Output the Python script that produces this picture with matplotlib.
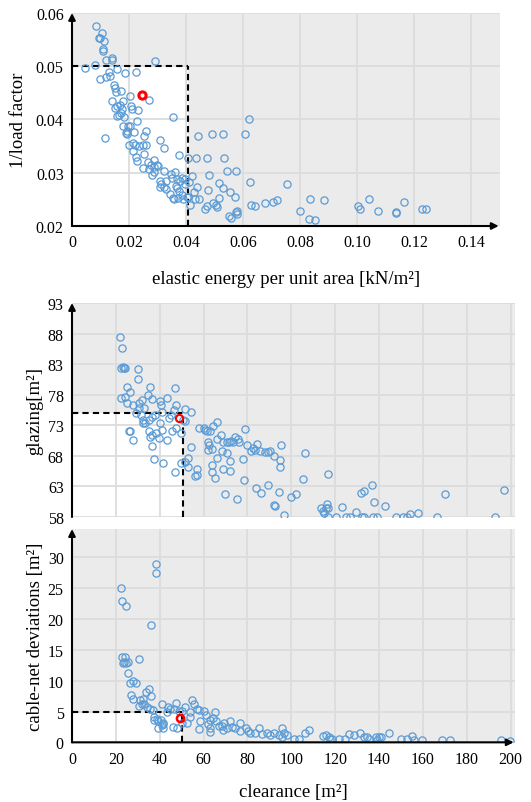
import numpy as np
import matplotlib
matplotlib.use("Agg")
from matplotlib import pyplot as plt
from matplotlib.patches import Rectangle

plt.rcParams["font.family"] = ["Liberation Serif", "DejaVu Serif"]

# ---------------- data: panel 1 (elastic energy vs 1/load factor)
energy = [0.0084, 0.0104, 0.0095, 0.0098, 0.0111, 0.0107, 0.0110, 0.0119, 0.0139, 0.0140,
          0.0081, 0.0044, 0.0159, 0.0131, 0.0184, 0.0224, 0.0292, 0.0097, 0.0120, 0.0133,
          0.0148, 0.0152, 0.0173, 0.0153, 0.0203, 0.0271, 0.0139, 0.0180, 0.0156, 0.0151,
          0.0168, 0.0174, 0.0170, 0.0165, 0.0208, 0.0210, 0.0230, 0.0227, 0.0183, 0.0159,
          0.0177, 0.0195, 0.0203, 0.0192, 0.0188, 0.0194, 0.0218, 0.0259, 0.0253, 0.0353,
          0.0117, 0.0201, 0.0215, 0.0222, 0.0234, 0.0248, 0.0258, 0.0213, 0.0223, 0.0229,
          0.0253, 0.0308, 0.0323, 0.0376, 0.0266, 0.0276, 0.0286, 0.0297, 0.0288, 0.0301,
          0.0270, 0.0279, 0.0288, 0.0321, 0.0249, 0.0307, 0.0313, 0.0322, 0.0307, 0.0330,
          0.0330, 0.0347, 0.0351, 0.0361, 0.0367, 0.0363, 0.0368, 0.0344, 0.0353, 0.0358,
          0.0372, 0.0376, 0.0380, 0.0385, 0.0397, 0.0396, 0.0384, 0.0389, 0.0402, 0.0408,
          0.0434, 0.0472, 0.0532, 0.0441, 0.0492, 0.0530, 0.0606, 0.0620, 0.0422, 0.0411,
          0.0437, 0.0429, 0.0444, 0.0405, 0.0415, 0.0431, 0.0481, 0.0544, 0.0575, 0.0515,
          0.0530, 0.0476, 0.0553, 0.0571, 0.0624, 0.0466, 0.0472, 0.0495, 0.0504, 0.0509,
          0.0515, 0.0551, 0.0557, 0.0575, 0.0577, 0.0578, 0.0629, 0.0641, 0.0678, 0.0703,
          0.0717, 0.0754, 0.0799, 0.0834, 0.0829, 0.0852, 0.0884, 0.1001, 0.1011, 0.1042,
          0.1072, 0.1134, 0.1136, 0.1165, 0.1227, 0.1239]
inv_load = [0.0576, 0.0563, 0.0553, 0.0553, 0.0547, 0.0533, 0.0529, 0.0511, 0.0515, 0.0511,
            0.0503, 0.0496, 0.0495, 0.0490, 0.0488, 0.0489, 0.0509, 0.0476, 0.0479, 0.0481,
            0.0464, 0.0460, 0.0454, 0.0451, 0.0444, 0.0437, 0.0435, 0.0434, 0.0426, 0.0422,
            0.0428, 0.0420, 0.0413, 0.0408, 0.0425, 0.0419, 0.0418, 0.0398, 0.0404, 0.0406,
            0.0388, 0.0387, 0.0388, 0.0379, 0.0374, 0.0372, 0.0376, 0.0378, 0.0369, 0.0404,
            0.0365, 0.0353, 0.0356, 0.0353, 0.0351, 0.0353, 0.0353, 0.0340, 0.0330, 0.0322,
            0.0335, 0.0362, 0.0347, 0.0333, 0.0320, 0.0314, 0.0311, 0.0314, 0.0323, 0.0312,
            0.0307, 0.0296, 0.0302, 0.0304, 0.0309, 0.0285, 0.0279, 0.0273, 0.0273, 0.0269,
            0.0284, 0.0297, 0.0291, 0.0302, 0.0289, 0.0276, 0.0272, 0.0261, 0.0253, 0.0251,
            0.0253, 0.0265, 0.0284, 0.0291, 0.0289, 0.0279, 0.0258, 0.0251, 0.0254, 0.0327,
            0.0327, 0.0328, 0.0327, 0.0369, 0.0372, 0.0373, 0.0372, 0.0400, 0.0293, 0.0283,
            0.0274, 0.0264, 0.0250, 0.0254, 0.0239, 0.0251, 0.0295, 0.0304, 0.0303, 0.0281,
            0.0271, 0.0268, 0.0264, 0.0254, 0.0283, 0.0231, 0.0238, 0.0243, 0.0240, 0.0235,
            0.0253, 0.0219, 0.0215, 0.0226, 0.0223, 0.0228, 0.0240, 0.0238, 0.0243, 0.0245,
            0.0249, 0.0278, 0.0229, 0.0251, 0.0213, 0.0212, 0.0248, 0.0238, 0.0231, 0.0250,
            0.0229, 0.0226, 0.0224, 0.0245, 0.0232, 0.0232]
sel_energy, sel_inv_load = 0.0246, 0.0446
lim_energy, lim_inv_load = 0.0405, 0.05

# ---------------- data: panel 2 (clearance vs glazing)
clear_g = [22.0, 22.9, 22.4, 23.5, 24.1, 23.2, 30.2, 30.1, 25.3, 26.5, 35.5, 46.9, 22.4, 24.1,
           25.1, 27.7, 30.4, 31.9, 34.7, 36.4, 30.7, 32.9, 29.2, 31.4, 32.2, 33.4, 32.5, 35.0,
           36.4, 37.9, 40.0, 40.5, 43.3, 47.5, 51.4, 54.4, 40.9, 45.0, 44.2, 46.5, 50.5, 51.4,
           35.2, 36.7, 35.5, 38.2, 39.7, 40.3, 41.2, 43.4, 45.4, 47.2, 49.9, 26.2, 26.6, 27.7,
           36.4, 37.5, 41.7, 46.8, 49.8, 51.7, 52.9, 52.9, 54.1, 56.8, 56.2, 57.0, 57.7, 60.0,
           60.5, 61.5, 62.7, 64.5, 66.3, 62.0, 62.3, 61.8, 63.9, 66.2, 67.9, 69.0, 70.5, 71.6,
           72.5, 73.5, 74.3, 75.5, 76.1, 68.6, 70.7, 66.2, 63.8, 63.8, 65.0, 68.7, 72.0, 72.2,
           69.6, 75.2, 77.9, 78.3, 78.8, 80.0, 81.5, 82.7, 83.6, 84.5, 85.7, 88.1, 89.3, 90.1,
           92.0, 94.7, 94.7, 95.5, 84.1, 86.0, 89.3, 94.3, 92.3, 92.6, 96.8, 99.8, 102.1, 105.1,
           106.3, 113.4, 114.4, 114.9, 115.6, 116.7, 116.1, 116.5, 116.8, 120.5, 123.2, 125.1,
           126.9, 129.6, 131.9, 133.1, 132.2, 133.2, 136.7, 137.9, 137.4, 138.9, 142.7, 147.7,
           150.7, 152.8, 154.0, 157.7, 166.5, 170.2, 193.1, 197.1]
glazing = [87.5, 85.6, 82.4, 82.3, 82.4, 82.6, 82.2, 80.5, 79.2, 78.5, 79.2, 79.1, 77.4, 77.7,
           76.6, 76.4, 76.6, 77.1, 78.0, 77.3, 75.8, 75.9, 75.0, 74.7, 73.9, 73.4, 73.3, 73.9,
           74.4, 74.7, 76.9, 76.3, 77.5, 76.3, 75.7, 75.1, 75.2, 74.7, 74.2, 75.5, 73.9, 73.7,
           72.0, 71.4, 71.1, 71.7, 70.9, 73.3, 72.2, 70.6, 72.1, 72.6, 71.7, 72.1, 72.0, 70.6,
           69.6, 67.5, 66.8, 65.4, 66.8, 67.0, 67.7, 66.2, 69.5, 65.9, 64.7, 64.8, 72.6, 72.5,
           72.2, 72.1, 72.1, 72.9, 73.5, 70.2, 69.8, 69.0, 69.2, 70.7, 71.4, 70.3, 70.2, 70.2,
           70.4, 70.2, 71.1, 70.7, 70.2, 68.8, 68.4, 67.6, 66.5, 65.4, 64.4, 65.9, 65.5, 67.1,
           61.7, 61.0, 67.5, 64.0, 72.4, 69.8, 68.8, 69.3, 69.0, 69.9, 68.8, 68.6, 68.7, 68.8,
           68.0, 67.4, 66.2, 69.7, 62.8, 62.0, 63.3, 62.1, 59.9, 59.8, 58.4, 61.3, 61.7, 64.2,
           68.4, 59.4, 59.0, 58.7, 59.4, 59.5, 60.1, 58.0, 65.1, 58.0, 59.7, 58.0,
           58.0, 58.9, 61.9, 62.2, 58.0, 58.0, 63.3, 60.5, 58.0, 58.0, 59.8, 58.0,
           58.0, 58.0, 58.5, 58.7, 58.0, 61.7, 58.0, 62.5]
sel_clear_g, sel_glazing = 48.7, 74.2
lim_clear_g, lim_glazing = 50.5, 75.0

# ---------------- data: panel 3 (clearance vs cable-net deviations)
clear_d = [22.2, 22.8, 24.4, 38.1, 38.2, 35.9, 22.7, 24.2, 23.1, 24.7, 23.7, 25.7, 30.6, 25.6,
           26.5, 27.7, 29.2, 26.8, 28.0, 35.2, 36.1, 33.6, 31.1, 32.3, 32.9, 31.8, 30.7, 34.1,
           35.6, 36.8, 37.4, 38.7, 39.4, 40.5, 41.4, 41.0, 41.7, 39.4, 41.7, 37.4, 41.0, 43.7,
           44.7, 43.2, 47.5, 46.3, 48.6, 46.0, 47.9, 50.1, 51.3, 53.6, 52.4, 50.1, 54.8, 55.4,
           56.9, 58.0, 53.6, 57.7, 58.4, 60.4, 61.2, 63.0, 62.7, 63.0, 62.0, 65.3, 64.5, 65.8,
           66.8, 68.3, 69.4, 68.8, 70.6, 72.1, 72.9, 74.4, 76.4, 76.7, 79.5, 80.1, 81.3, 83.6,
           85.1, 86.6, 88.9, 90.4, 91.9, 94.2, 95.9, 96.8, 98.0, 95.7, 101.1, 103.3, 106.4,
           107.9, 114.5, 116.0, 117.0, 117.8, 118.6, 121.6, 124.7, 126.2, 128.5, 131.2, 133.3,
           134.6, 135.3, 138.4, 139.9, 141.1, 139.1, 144.4, 149.8, 152.8, 155.1, 155.9, 159.7,
           168.8, 172.3, 195.4, 199.5]
deviation = [25.0, 22.9, 22.1, 28.9, 27.5, 19.1, 13.8, 13.8, 12.8, 12.8, 13.1, 13.0, 13.6, 11.2,
             9.7, 9.9, 9.7, 7.7, 7.0, 8.6, 7.5, 8.1, 6.8, 7.0, 6.2, 6.2, 5.9, 5.7,
             5.4, 5.2, 4.1, 3.8, 3.5, 3.6, 3.1, 2.8, 3.0, 2.3, 2.3, 3.6, 6.2, 5.8,
             5.4, 4.9, 6.4, 5.4, 5.1, 2.5, 2.3, 3.1, 5.8, 4.9, 3.1, 5.1, 6.8, 6.2,
             5.4, 5.3, 4.1, 2.1, 3.5, 5.1, 4.5, 3.6, 2.4, 1.6, 3.0, 5.0, 3.9, 3.4,
             2.7, 2.7, 3.1, 2.0, 2.3, 3.5, 2.5, 2.3, 3.2, 1.9, 2.3, 1.8, 1.5, 1.5,
             2.3, 1.4, 1.5, 1.2, 1.5, 1.2, 2.3, 1.5, 1.2, 0.8, 0.6, 0.6, 1.5,
             2.0, 1.1, 1.2, 0.8, 0.6, 0.5, 0.6, 0.5, 1.4, 1.2, 1.5, 0.9,
             0.8, 0.6, 0.9, 0.8, 0.9, 0.4, 1.5, 0.5, 0.6, 1.1, 0.4, 0.3,
             0.4, 0.4, 0.3, 0.2]
sel_clear_d, sel_deviation = 49.3, 3.9
lim_clear_d, lim_deviation = 50.0, 5.0

blue = "#5b9bd5"
bg = "#ebebeb"
gridc = "#dcdcdc"
tick_fs = 11.5
label_fs = 13.5


def style(ax, xlim, ylim, xticks, yticks, lim_x, lim_y, xarrow=True):
    ax.set_facecolor(bg)
    ax.set_xlim(xlim)
    ax.set_ylim(ylim)
    ax.set_xticks(xticks)
    ax.set_yticks(yticks)
    ax.add_patch(Rectangle((xlim[0], ylim[0]), lim_x - xlim[0], lim_y - ylim[0],
                           facecolor="white", edgecolor="none", zorder=0.5))
    ax.grid(True, color=gridc, lw=1.3, zorder=0.8)
    ax.set_axisbelow(True)
    for s in ax.spines.values():
        s.set_visible(False)
    ax.tick_params(length=0, labelsize=tick_fs, pad=6)
    ax.plot([xlim[0], lim_x], [lim_y, lim_y], color="k", ls=(0, (3, 2)), lw=1.5, zorder=3)
    ax.plot([lim_x, lim_x], [ylim[0], lim_y], color="k", ls=(0, (3, 2)), lw=1.5, zorder=3)
    arrow = dict(arrowstyle="-|>", color="k", lw=1.5, mutation_scale=10, shrinkA=0, shrinkB=0)
    ax.annotate("", xy=(0, 1.0), xytext=(0, 0), xycoords="axes fraction",
                arrowprops=arrow, zorder=5, annotation_clip=False)
    if xarrow:
        ax.annotate("", xy=(0.997, 0), xytext=(0, 0), xycoords="axes fraction",
                    arrowprops=arrow, zorder=5, annotation_clip=False)


fig = plt.figure(figsize=(5.31, 8.03), dpi=100)

# top panel
ax1 = fig.add_axes([0.1356, 0.7173, 0.806, 0.2653])
style(ax1, (0, 0.15), (0.02, 0.06), np.arange(0, 0.141, 0.02), [0.02, 0.03, 0.04, 0.05, 0.06],
      lim_energy, lim_inv_load)
ax1.set_xticklabels(["0", "0.02", "0.04", "0.06", "0.08", "0.10", "0.12", "0.14"])
ax1.set_yticklabels(["0.02", "0.03", "0.04", "0.05", "0.06"])
ax1.plot(energy, inv_load, "o", mfc="none", mec=blue, ms=5.2, mew=0.9, zorder=4)
ax1.plot(sel_energy, sel_inv_load, "o", mfc="none", mec="red", ms=5.2, mew=2.2, zorder=6)
ax1.set_ylabel("1/load factor", fontsize=label_fs, labelpad=6)
ax1.set_xlabel("elastic energy per unit area [kN/m²]", fontsize=label_fs, labelpad=14)

# middle panel
ax2 = fig.add_axes([0.1356, 0.3549, 0.8343, 0.2665])
style(ax2, (0, 202), (58, 93), np.arange(0, 201, 20), np.arange(58, 94, 5),
      lim_clear_g, lim_glazing, xarrow=False)
ax2.set_xticklabels([])
ax2.plot(clear_g, glazing, "o", mfc="none", mec=blue, ms=5.2, mew=0.9, zorder=4)
ax2.plot(sel_clear_g, sel_glazing, "o", mfc="none", mec="red", ms=5.2, mew=1.5, zorder=6)
ax2.set_ylabel("glazing[m²]", fontsize=label_fs, labelpad=3)

# bottom panel
ax3 = fig.add_axes([0.1356, 0.0743, 0.8343, 0.2656])
style(ax3, (0, 202), (0, 34.6), np.arange(0, 201, 20), np.arange(0, 31, 5),
      lim_clear_d, lim_deviation)
ax3.plot(clear_d, deviation, "o", mfc="none", mec=blue, ms=5.2, mew=0.9, zorder=4)
ax3.plot(sel_clear_d, sel_deviation, "o", mfc="none", mec="red", ms=5.2, mew=1.8, zorder=6)
ax3.set_ylabel("cable-net deviations [m²]", fontsize=label_fs, labelpad=3)
ax3.set_xlabel("clearance [m²]", fontsize=label_fs, labelpad=12)

fig.savefig("out.png", dpi=100)
